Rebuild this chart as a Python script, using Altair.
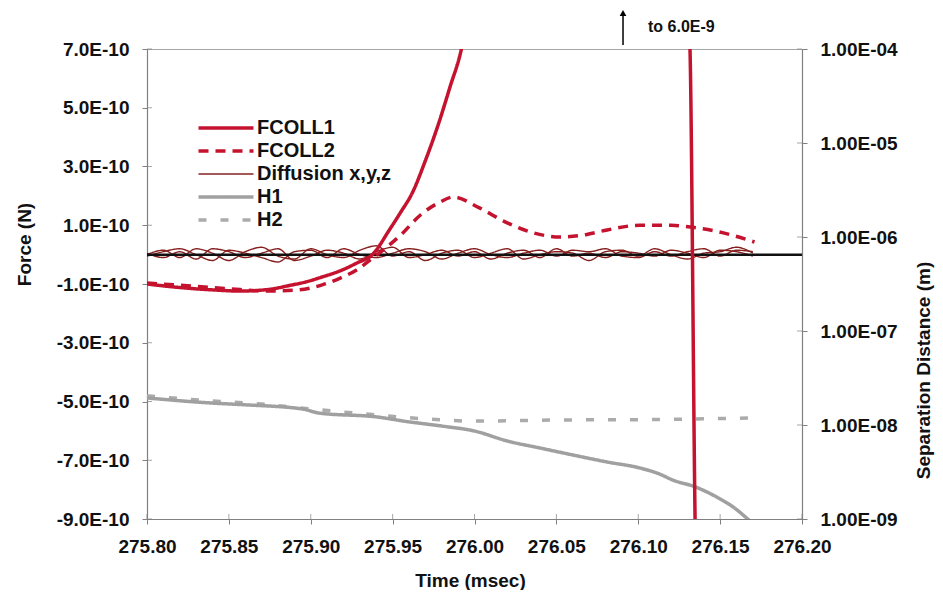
import altair as alt
import pandas as pd

FORCE_UNIT = 1e-10  # force lists below are in units of 1E-10 N

# FCOLL1 (solid red) - leaves the chart (to 6.0E-9) and comes back down
t_fcoll1 = [275.800, 275.820, 275.840, 275.857, 275.875, 275.887, 275.897, 275.907,
            275.918, 275.928, 275.938, 275.948, 275.955, 275.962, 275.970, 275.978,
            275.985, 275.992, 276.030, 276.080, 276.110, 276.1316, 276.1347, 276.140]
f_fcoll1 = [-1.00, -1.12, -1.20, -1.24, -1.18, -1.05, -0.93, -0.76,
            -0.55, -0.29, 0.02, 0.84, 1.45, 2.10, 3.20, 4.45,
            5.70, 7.00, 30.0, 60.0, 30.0, 7.0, -9.0, -20.0]

# FCOLL2 (dashed red)
t_fcoll2 = [275.800, 275.830, 275.850, 275.875, 275.893, 275.907, 275.918, 275.928,
            275.938, 275.955, 275.967, 275.979, 275.987, 276.003, 276.020, 276.036,
            276.052, 276.068, 276.081, 276.101, 276.120, 276.132, 276.152, 276.171]
f_fcoll2 = [-0.97, -1.08, -1.16, -1.24, -1.20, -1.03, -0.80, -0.52,
            -0.11, 0.67, 1.35, 1.79, 1.96, 1.59, 1.08, 0.74,
            0.60, 0.68, 0.84, 1.00, 1.00, 0.94, 0.74, 0.43]

# Diffusion x, y, z (thin dark red), sampled every 0.01 msec from 275.80
t_diff = [275.80, 275.81, 275.82, 275.83, 275.84, 275.85, 275.86, 275.87, 275.88, 275.89,
          275.90, 275.91, 275.92, 275.93, 275.94, 275.95, 275.96, 275.97, 275.98, 275.99,
          276.00, 276.01, 276.02, 276.03, 276.04, 276.05, 276.06, 276.07, 276.08, 276.09,
          276.10, 276.11, 276.12, 276.13, 276.14, 276.15, 276.16, 276.17]
f_diff_x = [0.00, 0.15, -0.10, 0.20, 0.05, -0.20, 0.10, 0.25, -0.05, -0.15,
            0.20, 0.00, -0.10, 0.15, 0.30, -0.05, 0.10, -0.20, 0.05, 0.15,
            -0.10, 0.05, 0.20, -0.15, 0.00, 0.10, 0.05, -0.20, 0.10, 0.15,
            -0.05, 0.20, 0.00, -0.15, 0.05, 0.10, 0.25, 0.05]
f_diff_y = [0.05, -0.10, 0.10, -0.15, 0.20, 0.10, -0.10, 0.05, 0.20, -0.20,
            -0.05, 0.15, 0.05, -0.15, 0.10, 0.25, -0.10, 0.00, 0.15, -0.05,
            0.10, -0.15, 0.05, 0.15, -0.10, 0.20, -0.05, 0.05, -0.10, 0.10,
            0.05, -0.05, 0.15, 0.05, -0.10, 0.15, 0.10, -0.05]
f_diff_z = [-0.05, 0.10, 0.20, 0.00, -0.20, 0.15, 0.05, -0.10, -0.25, 0.10,
            0.15, -0.10, 0.20, 0.00, -0.10, 0.05, 0.20, 0.10, -0.15, 0.05,
            0.20, 0.00, -0.10, 0.05, 0.15, -0.05, 0.15, 0.10, 0.20, -0.05,
            -0.10, 0.10, -0.05, 0.10, 0.20, -0.05, 0.15, 0.10]

# H1 (solid grey) and H2 (dashed grey), separation distance in m (right log axis)
t_h1 = [275.800, 275.840, 275.860, 275.895, 275.905, 275.940, 275.960, 275.980,
        276.000, 276.020, 276.040, 276.060, 276.081, 276.101, 276.113, 276.121,
        276.135, 276.148, 276.158, 276.166, 276.170]
d_h1 = [1.94e-8, 1.71e-8, 1.64e-8, 1.48e-8, 1.34e-8, 1.22e-8, 1.08e-8, 9.75e-9,
        8.63e-9, 6.76e-9, 5.69e-9, 4.80e-9, 4.04e-9, 3.49e-9, 3.01e-9, 2.60e-9,
        2.19e-9, 1.71e-9, 1.34e-9, 1.03e-9, 8.9e-10]
t_h2 = [275.800, 275.840, 275.870, 275.900, 275.940, 275.970, 276.000, 276.050,
        276.100, 276.171]
d_h2 = [2.04e-8, 1.80e-8, 1.67e-8, 1.48e-8, 1.28e-8, 1.16e-8, 1.10e-8, 1.13e-8,
        1.14e-8, 1.19e-8]

series_names = ["FCOLL1", "FCOLL2", "Diffusion x,y,z", "H1", "H2"]
series_colors = ["#c4122f", "#c4122f", "#86201f", "#a0a0a0", "#ababab"]
series_dash = [[1, 0], [10, 7], [1, 0], [1, 0], [8, 14]]
series_width = [3.5, 3.5, 1.4, 3.5, 3.5]

x_ticks = [275.80, 275.85, 275.90, 275.95, 276.00, 276.05, 276.10, 276.15, 276.20]
force_ticks = [7e-10, 5e-10, 3e-10, 1e-10, -1e-10, -3e-10, -5e-10, -7e-10, -9e-10]
dist_ticks = [1e-4, 1e-5, 1e-6, 1e-7, 1e-8, 1e-9]

arrow_time = [276.0907]
arrow_text = ["to 6.0E-9"]

FONT = "Liberation Sans"
AXIS_GREY = "#808080"


def frame(ts, vs, name, comp="", unit=1.0):
    return pd.DataFrame({"t": ts, "v": [v * unit for v in vs], "series": name, "comp": comp})


df_f1 = frame(t_fcoll1, f_fcoll1, "FCOLL1", unit=FORCE_UNIT)
df_f2 = frame(t_fcoll2, f_fcoll2, "FCOLL2", unit=FORCE_UNIT)
df_diff = pd.concat([
    frame(t_diff, f_diff_x, "Diffusion x,y,z", "x", FORCE_UNIT),
    frame(t_diff, f_diff_y, "Diffusion x,y,z", "y", FORCE_UNIT),
    frame(t_diff, f_diff_z, "Diffusion x,y,z", "z", FORCE_UNIT),
])
df_h1 = frame(t_h1, d_h1, "H1")
df_h2 = frame(t_h2, d_h2, "H2")

x_scale = alt.Scale(domain=[275.80, 276.20], nice=False, zero=False)
x_enc = alt.X("t:Q", scale=x_scale,
              axis=alt.Axis(values=x_ticks, format=".2f", title="Time (msec)",
                            labelOverlap=False, labelFlush=False,
                            titleX=323, titleY=61, titleBaseline="middle",
                            titleAlign="center"))

# legend symbol: a long horizontal stroke drawn from a compact symbol size
legend = alt.Legend(orient="none", legendX=69, legendY=69, title=None,
                    symbolType="M-4,0H4", symbolSize=189, labelFontSize=20,
                    labelFont=FONT, labelFontWeight="bold", labelColor="#111111",
                    rowPadding=3, labelOffset=21, padding=0)

color_enc = alt.Color("series:N", scale=alt.Scale(domain=series_names, range=series_colors),
                      legend=legend)
dash_enc = alt.StrokeDash("series:N", scale=alt.Scale(domain=series_names, range=series_dash),
                          legend=legend)
width_enc = alt.StrokeWidth("series:N",
                            scale=alt.Scale(type="ordinal", domain=series_names, range=series_width),
                            legend=legend)

force_scale = alt.Scale(domain=[-9e-10, 7e-10], nice=False, zero=False)
dist_scale = alt.Scale(type="log", domain=[1e-9, 1e-4], nice=False)

y_force = alt.Y("v:Q", scale=force_scale,
                axis=alt.Axis(orient="left", values=force_ticks, title="Force (N)",
                              labelExpr="(datum.value < 0 ? '-' : '') + format(abs(datum.value) * 1e10, '.1f') + 'E-10'",
                              titleX=-123, titleY=195, titleAngle=-90,
                              titleBaseline="middle", titleAlign="center"))

y_dist = alt.Y("v:Q", scale=dist_scale,
               axis=alt.Axis(orient="right", values=dist_ticks, title="Separation Distance (m)",
                             labelExpr="'1.00E-0' + round(-log(datum.value) / LN10)",
                             titleX=121, titleY=321, titleAngle=-90,
                             titleBaseline="middle", titleAlign="center"))


def line_layer(df, y_enc):
    return alt.Chart(df).mark_line(clip=True, interpolate="monotone").encode(
        x=x_enc, y=y_enc, color=color_enc, strokeDash=dash_enc,
        strokeWidth=width_enc, detail="comp:N")


zero_rule = alt.Chart(pd.DataFrame({"v": [0.0]})).mark_rule(
    color="#111111", strokeWidth=2.5).encode(y=alt.Y("v:Q"))

# inner halves of the crossing tick marks (Excel style "cross" ticks)
inner_force_ticks = alt.Chart(pd.DataFrame({"v": force_ticks})).mark_tick(
    color=AXIS_GREY, size=5, thickness=1, orient="horizontal").encode(
    y=alt.Y("v:Q"), x=alt.value(2.5))
inner_dist_ticks = alt.Chart(pd.DataFrame({"v": dist_ticks})).mark_tick(
    color=AXIS_GREY, size=5, thickness=1, orient="horizontal").encode(
    y=alt.Y("v:Q"), x=alt.value(652.5))
inner_x_ticks = alt.Chart(pd.DataFrame({"t": x_ticks})).mark_tick(
    color=AXIS_GREY, size=5, thickness=1, orient="vertical").encode(
    x=alt.X("t:Q"), y=alt.value(467.5))

arrow_df = pd.DataFrame({"t": arrow_time, "label": arrow_text})
arrow_shaft = alt.Chart(arrow_df).mark_rule(color="black", strokeWidth=1.5).encode(
    x=alt.X("t:Q"), y=alt.value(-4), y2=alt.value(-33))
arrow_head = alt.Chart(arrow_df).mark_point(shape="triangle-up", filled=True, color="black",
                                           size=45, opacity=1).encode(
    x=alt.X("t:Q"), y=alt.value(-36))
arrow_label = alt.Chart(arrow_df).mark_text(align="left", baseline="middle", dx=25,
                                            font=FONT, fontSize=16, fontWeight="bold",
                                            color="#111111").encode(
    x=alt.X("t:Q"), y=alt.value(-22), text="label:N")

force_layer = alt.layer(
    inner_force_ticks,
    inner_x_ticks,
    line_layer(df_diff, y_force),
    zero_rule,
    line_layer(df_f2, y_force),
    line_layer(df_f1, y_force),
    arrow_shaft, arrow_head, arrow_label,
)

dist_layer = alt.layer(
    inner_dist_ticks,
    line_layer(df_h2, y_dist),
    line_layer(df_h1, y_dist),
)

chart = alt.layer(dist_layer, force_layer).resolve_scale(y="independent").properties(
    width=655, height=470,
    padding={"left": 139, "top": 41, "right": 133, "bottom": 71},
    autosize=alt.AutoSizeParams(type="none"),
    background="white",
).configure_view(stroke="#a6a6a6", strokeWidth=1).configure_axis(
    labelFont=FONT, labelFontSize=19, labelFontWeight="bold", labelColor="#111111",
    titleFont=FONT, titleFontSize=19, titleFontWeight="bold", titleColor="#111111",
    domainColor=AXIS_GREY, tickColor=AXIS_GREY, tickSize=5, labelPadding=13,
    grid=False, domainWidth=1.2,
)

chart.save("out.html", embed_options={"renderer": "svg", "actions": False})
